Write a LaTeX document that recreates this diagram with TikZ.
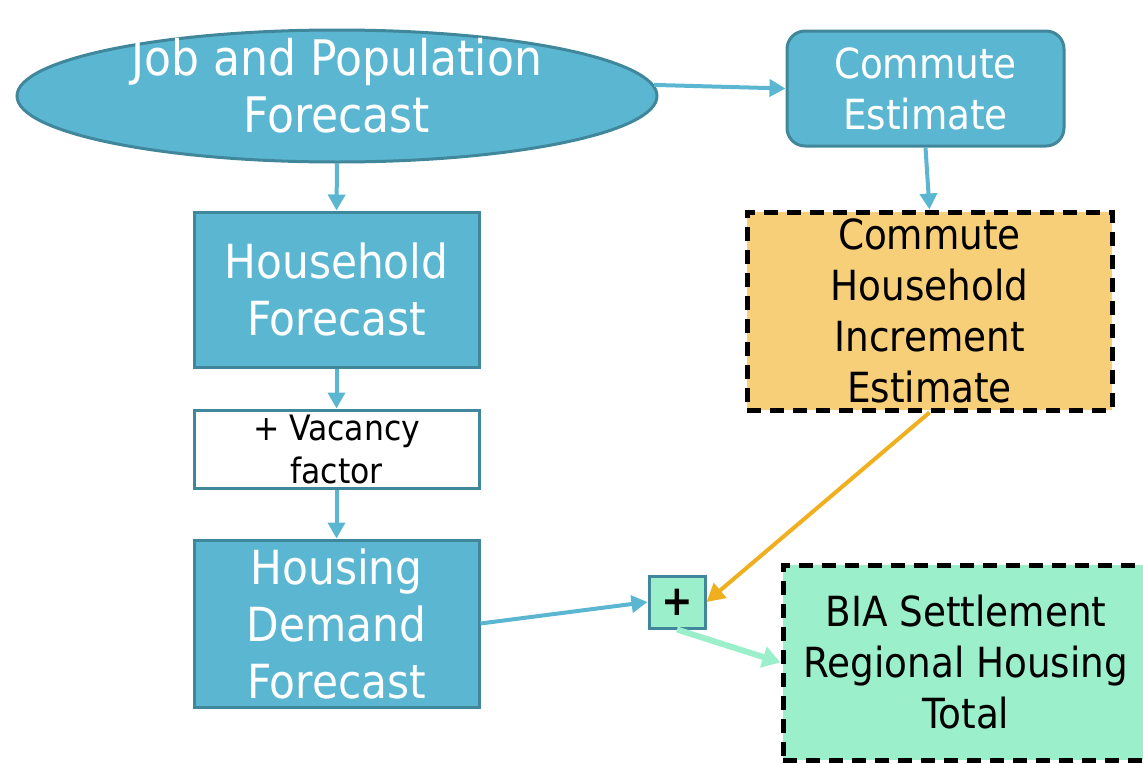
\documentclass[tikz,border=0pt]{standalone}
\usepackage{fontspec}
\setmainfont{DejaVu Sans Condensed}
\usetikzlibrary{shapes.geometric,arrows.meta}
\definecolor{bluefill}{HTML}{5BB7D1}
\definecolor{blueedge}{HTML}{41879B}
\definecolor{orangefill}{HTML}{F7CF79}
\definecolor{mintfill}{HTML}{9BEFCB}
\definecolor{orangearrow}{HTML}{F0AF1F}
\tikzset{
  bluebox/.style={draw=blueedge, line width=3pt, fill=bluefill, text=white, align=center, inner sep=0pt},
  dashbox/.style={draw=black, line width=5pt, dash pattern=on 14pt off 9pt, align=center, inner sep=0pt, text=black},
  bigfont/.style={font=\fontsize{47}{57}\selectfont},
  midfont/.style={font=\fontsize{41.5}{51}\selectfont},
  smallfont/.style={font=\fontsize{35}{43}\selectfont},
  bluearrow/.style={draw=bluefill, line width=4pt, -{Triangle[length=16pt,width=17pt]}},
  orangearr/.style={draw=orangearrow, line width=4pt, -{Triangle[length=18pt,width=19pt]}},
  mintarr/.style={draw=mintfill, line width=6pt, -{Triangle[length=18pt,width=21pt]}},
}
\begin{document}
\begin{tikzpicture}[x=1pt,y=-1pt]
\useasboundingbox (0,0) rectangle (1143,763);
\node[bluebox, ellipse, minimum width=640pt, minimum height=132pt,
  label={[text=white, align=center, font=\fontsize{49}{57}\selectfont, yshift=10pt]center:Job and Population\\Forecast}] (ell) at (337,96) {};
\node[bluebox, midfont, rounded corners=18pt, minimum width=277pt, minimum height=115pt] (ce) at (925.5,88.5) {Commute\\Estimate};
\node[bluebox, bigfont, minimum width=285pt, minimum height=155pt] (hh) at (336.5,289.5) {Household\\Forecast};
\node[draw=blueedge, line width=3pt, fill=white, align=center, inner sep=0pt, smallfont, minimum width=285pt, minimum height=78pt] (vac) at (336.5,449) {+ Vacancy\\factor};
\node[bluebox, bigfont, minimum width=285pt, minimum height=167pt] (hd) at (336.5,623.5) {Housing\\Demand\\Forecast};
\node[dashbox, fill=orangefill, midfont, minimum width=365pt, minimum height=198pt] (chie) at (929.5,311) {Commute\\Household\\Increment\\Estimate};
\node[draw=blueedge, line width=3pt, fill=mintfill, inner sep=0pt, minimum width=56pt, minimum height=52pt, font=\fontsize{42}{42}\selectfont\bfseries] (plus) at (677,602) {+};
\node[dashbox, fill=mintfill, font=\fontsize{41.5}{51}\selectfont, minimum width=366pt, minimum height=195pt] (bia) at (966,662.5) {BIA Settlement\\Regional Housing\\Total};
\draw[bluearrow] (ell.south) -- (hh.north);
\draw[bluearrow] (hh.south) -- (vac.north);
\draw[bluearrow] (vac.south) -- (hd.north);
\draw[bluearrow] (ell.2) -- (ce.west);
\draw[bluearrow] (ce.south) -- (chie.north);
\draw[orangearr] (chie.south) -- (plus.east);
\draw[bluearrow] (hd.east) -- (plus.west);
\draw[mintarr] (plus.south) -- (bia.west);
\end{tikzpicture}
\end{document}
